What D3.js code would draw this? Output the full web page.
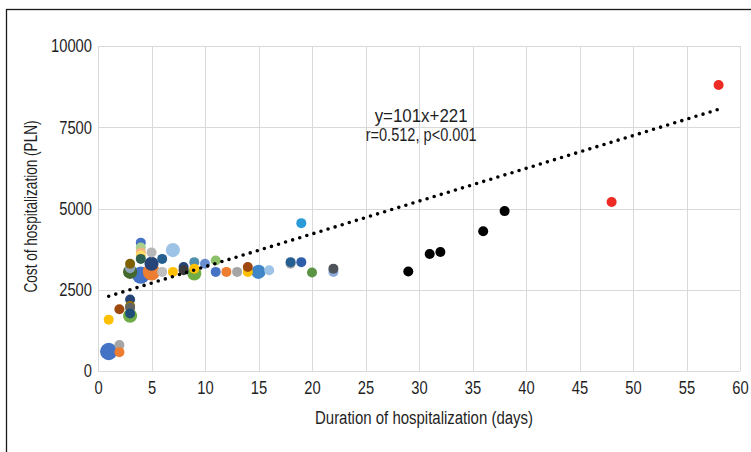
<!DOCTYPE html>
<html>
<head>
<meta charset="utf-8">
<script src="https://cdn.jsdelivr.net/npm/d3@7"></script>
<style>
  body { margin: 0; background: #fff; }
  text { font-family: "Liberation Sans", Arial, sans-serif; fill: #1f1f1f; }
</style>
</head>
<body>
<div id="container"></div>
<script>
const WIDTH = 751;
const HEIGHT = 452;
const MARGIN = { TOP: 46, LEFT: 98, RIGHT: 11, BOTTOM: 81 };

// duration (days), cost (PLN), number of patients (bubble size)
const days = [1, 2, 2, 1, 2, 3, 3, 3, 3, 3, 3, 3, 3,
              4, 4, 4, 4, 4, 4, 5, 5, 5, 6, 6, 7, 7, 8, 8,
              9, 9, 9, 10, 11, 11, 12, 13, 14, 14, 15, 16,
              18, 18, 19, 19, 20, 22, 22,
              29, 31, 32, 36, 38, 48, 58];
const cost = [600, 800, 580, 1580, 1900, 2200, 2000, 1950, 1700, 1770, 3050, 3160, 3300,
              3950, 3800, 3650, 3560, 3450, 2950, 3050, 3650, 3300, 3450, 3050, 3720, 3050, 3200, 3100,
              3350, 3150, 3000, 3300, 3400, 3050, 3050, 3050, 3050, 3200, 3050, 3100,
              3300, 3350, 3350, 4550, 3030, 3050, 3150,
              3060, 3600, 3660, 4300, 4920, 5200, 8800];
const patients = [3, 1, 1, 1, 1, 1, 1, 1, 2, 1, 2, 1, 1,
                  1, 1, 1, 1, 1, 3, 3, 1, 2, 1, 1, 2, 1, 1, 1,
                  1, 1, 2, 1, 1, 1, 1, 1, 1, 1, 2, 1,
                  1, 1, 1, 1, 1, 1, 1,
                  1, 1, 1, 1, 1, 1, 1];
const bubbleColors = ['#4472C4', '#A5A5A5', '#ED7D31', '#FFC000', '#9E480E', '#264478', '#997300', '#636363', '#70AD47', '#1F4E79', '#43682B', '#8EA3B8', '#7F6000',
                      '#4472C4', '#A9D18E', '#F4B183', '#FFD966', '#2E5E4E', '#4472C4', '#ED7D31', '#B7B7B7', '#264478', '#255E91', '#BFBFBF', '#9DC3E6', '#FFC000', '#264478', '#3B3B3B',
                      '#4E8EAE', '#FFC000', '#70AD47', '#698ED0', '#8CC168', '#4472C4', '#ED7D31', '#A5A5A5', '#FFC000', '#9E480E', '#3F86C8', '#9DC3E6',
                      '#A5A5A5', '#255E91', '#2E5EAA', '#2A9AD8', '#5B9444', '#8EAADB', '#4D5358',
                      '#000000', '#000000', '#000000', '#000000', '#000000', '#EE2A24', '#EE2A24'];

const xTicks = d3.range(0, 61, 5);
const yTicks = [0, 2500, 5000, 7500, 10000];
const trend = [[1, 2300], [58, 8050]];
const annotation = ['y=101x+221', 'r=0.512, p<0.001'];
const xTitle = 'Duration of hospitalization (days)';
const yTitle = 'Cost of hospitalization (PLN)';

const width = WIDTH - MARGIN.LEFT - MARGIN.RIGHT;
const height = HEIGHT - MARGIN.TOP - MARGIN.BOTTOM;

// condensed look: squeeze Liberation Sans to the narrow width of the original face
const DIGIT = 8.2;
const condense = (sel, len) => sel.attr('textLength', len)
                                  .attr('lengthAdjust', 'spacingAndGlyphs');

const svg = d3.select('#container')
              .append('svg')
                .attr('width', WIDTH)
                .attr('height', HEIGHT);

// outer frame (only top and left edge visible)
svg.append('rect')
     .attr('x', 6.5)
     .attr('y', 9.5)
     .attr('width', WIDTH + 20)
     .attr('height', HEIGHT + 20)
     .attr('fill', 'none')
     .attr('stroke', '#1a1a1a')
     .attr('stroke-width', 1.3);

const container = svg.append('g')
                       .attr('transform', `translate(${MARGIN.LEFT}, ${MARGIN.TOP})`);

const xscale = d3.scaleLinear().domain([0, 60]).range([0, width]);
const yscale = d3.scaleLinear().domain([0, 10000]).range([height, 0]);
const rscale = d3.scaleSqrt().domain([0, 4]).range([0, 10]);

// grid
container.append('g')
           .selectAll('line')
           .data(xTicks)
           .enter()
           .append('line')
             .attr('x1', d => Math.round(xscale(d)) + 0.5)
             .attr('x2', d => Math.round(xscale(d)) + 0.5)
             .attr('y1', 0)
             .attr('y2', height)
             .attr('stroke', '#d9d9d9');

container.append('g')
           .selectAll('line')
           .data(yTicks)
           .enter()
           .append('line')
             .attr('y1', d => Math.round(yscale(d)) + 0.5)
             .attr('y2', d => Math.round(yscale(d)) + 0.5)
             .attr('x1', 0)
             .attr('x2', width)
             .attr('stroke', '#d9d9d9');

const axisBottom = d3.axisBottom(xscale).tickValues(xTicks).tickSize(0).tickPadding(10);
const axisLeft = d3.axisLeft(yscale).tickValues(yTicks).tickSize(0).tickPadding(6)
                   .tickFormat(d3.format('d'));

const xAxis = container.append('g')
                         .attr('transform', `translate(0, ${height})`)
                         .call(axisBottom);
const yAxis = container.append('g')
                         .call(axisLeft);

[xAxis, yAxis].forEach(a => {
    a.select('.domain').remove();
    a.selectAll('text')
       .attr('font-size', 18)
       .attr('font-family', null)
       .style('fill', '#1f1f1f')
       .attr('textLength', d => String(d).length * DIGIT)
       .attr('lengthAdjust', 'spacingAndGlyphs');
});

// titles
container.append('text')
           .attr('x', width / 2 + 5)
           .attr('y', height + 53)
           .attr('text-anchor', 'middle')
           .attr('font-size', 18)
           .text(xTitle)
           .call(condense, 218);

container.append('text')
           .attr('transform', `translate(${-MARGIN.LEFT + 37}, ${height / 2 - 2}) rotate(-90)`)
           .attr('text-anchor', 'middle')
           .attr('font-size', 18)
           .text(yTitle)
           .call(condense, 172);

// bubbles, largest drawn first
const dataset = days.map((d, i) => ({ days: d, cost: cost[i], n: patients[i], color: bubbleColors[i] }));

container.append('g')
           .selectAll('circle')
           .data(dataset.slice().sort((a, b) => b.n - a.n))
           .enter()
           .append('circle')
             .attr('cx', d => xscale(d.days))
             .attr('cy', d => yscale(d.cost))
             .attr('r', d => rscale(d.n))
             .attr('fill', d => d.color);

// linear trend
container.append('line')
           .attr('x1', xscale(trend[0][0]))
           .attr('y1', yscale(trend[0][1]))
           .attr('x2', xscale(trend[1][0]))
           .attr('y2', yscale(trend[1][1]))
           .attr('stroke', '#000')
           .attr('stroke-width', 3.6)
           .attr('stroke-linecap', 'round')
           .attr('stroke-dasharray', '0 7.4');

const annLengths = [93, 111];
container.append('g')
           .selectAll('text')
           .data(annotation)
           .enter()
           .append('text')
             .attr('x', xscale(30.2))
             .attr('y', (d, i) => yscale(7660) + i * 19)
             .attr('text-anchor', 'middle')
             .attr('font-size', 18)
             .attr('textLength', (d, i) => annLengths[i])
             .attr('lengthAdjust', 'spacingAndGlyphs')
             .text(d => d);
</script>
</body>
</html>
